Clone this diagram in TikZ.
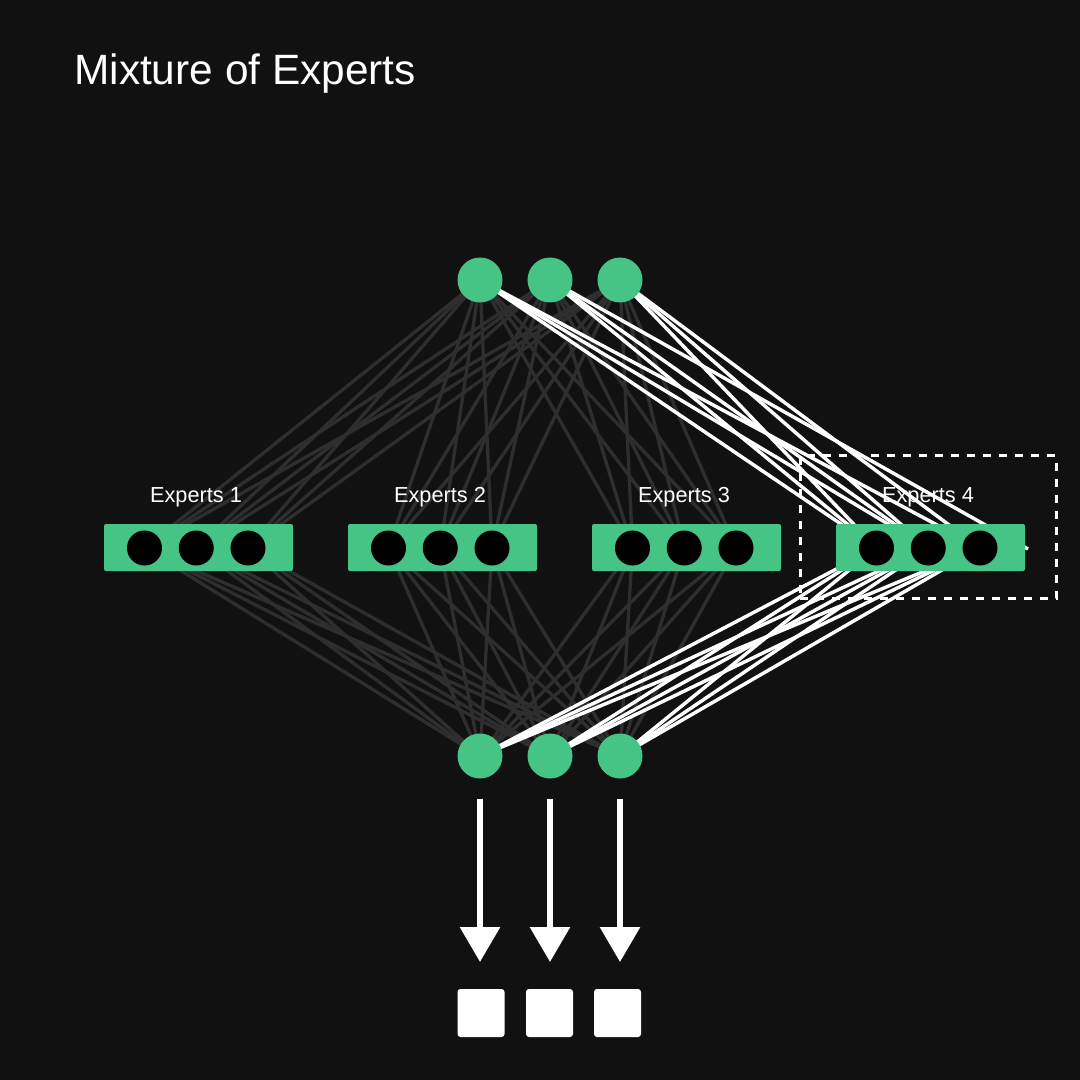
\documentclass[tikz,border=0pt]{standalone}
\usepackage{fontspec}
\setmainfont{Liberation Sans}
\usetikzlibrary{arrows.meta}
\definecolor{bgc}{HTML}{111111}
\definecolor{grn}{HTML}{46C486}
\definecolor{edgegray}{HTML}{2E2E2E}
\pgfdeclarelayer{bglayer}
\pgfdeclarelayer{edgelayer}
\pgfsetlayers{bglayer,edgelayer,main}
\begin{document}
\begin{tikzpicture}[x=0.75pt,y=-0.75pt,
  io/.style={circle,fill=grn,inner sep=0pt,outer sep=0pt,minimum size=33.75pt},
  expbox/.style={rectangle,rounded corners=1.5pt,fill=grn,inner sep=0pt,outer sep=0pt,minimum width=141.75pt,minimum height=35.25pt},
  unit/.style={circle,fill=black,inner sep=0pt,outer sep=0pt,minimum size=26.25pt},
  explabel/.style={text=white,font=\fontsize{16.3}{19}\selectfont,inner sep=0pt},
  outsq/.style={rectangle,rounded corners=2.25pt,fill=white,inner sep=0pt,outer sep=0pt,minimum width=35.25pt,minimum height=36pt},
  grayedge/.style={draw=edgegray,line width=2.5pt},
  whiteedge/.style={draw=white,line width=2.6pt},
  outarrow/.style={draw=white,line width=4.5pt,-{Triangle[width=29.25pt,length=26.25pt]}},
  selbox/.style={draw=white,line width=2.25pt,dash pattern=on 6pt off 6pt,inner sep=0pt,minimum width=192pt,minimum height=107.25pt}
]
\useasboundingbox (0,0) rectangle (1080,1080);
\begin{pgfonlayer}{bglayer}
  \fill[bgc] (0,0) rectangle (1080,1080);
\end{pgfonlayer}

\node[anchor=base west,text=white,font=\fontsize{31.8}{38}\selectfont,inner sep=0pt] (title) at (74,85) {Mixture of Experts};

\foreach \k/\x in {1/480,2/550,3/620} {
  \node[io] (t\k) at (\x,280) {};
  \node[io] (b\k) at (\x,756) {};
}

\foreach \i/\cx in {1/198.5,2/442.5,3/686.5,4/930.5} {
  \node[expbox] (e\i) at (\cx,547.5) {};
  \node[explabel,anchor=base] (l\i) at (\cx-2.5,502) {Experts \i};
  \foreach \k/\dx in {1/-54,2/-2.25,3/49.5} {
    \node[unit] (c\i\k) at (\cx+\dx,548) {};
  }
}
\coordinate (x4) at (1028,549);

\begin{pgfonlayer}{edgelayer}
  \foreach \i in {1,2,3} {
    \foreach \t in {1,2,3} {
      \foreach \k in {1,2,3} {
        \draw[grayedge] (t\t.center) -- (c\i\k.center);
        \draw[grayedge] (c\i\k.center) -- (b\t.center);
      }
    }
  }
  \foreach \t/\k in {1/1,1/2,1/3,2/1,2/2,3/1,3/2,3/3} {
    \draw[whiteedge] (t\t.center) -- (c4\k.center);
  }
  \draw[whiteedge] (t2.center) -- (x4);
  \foreach \t in {1,2,3} {
    \foreach \k in {1,2,3} {
      \draw[whiteedge] (c4\k.center) -- (b\t.center);
    }
  }
\end{pgfonlayer}

\node[selbox] (sel) at (928,527.3) {};

\foreach \k/\x in {1/481,2/549.5,3/617.5} {
  \node[outsq] (s\k) at (\x,1013) {};
}
\foreach \k in {1,2,3} {
  \draw[outarrow,shorten <=15pt,shorten >=20.25pt] (b\k) -- (b\k |- s\k.north);
}
\end{tikzpicture}
\end{document}
